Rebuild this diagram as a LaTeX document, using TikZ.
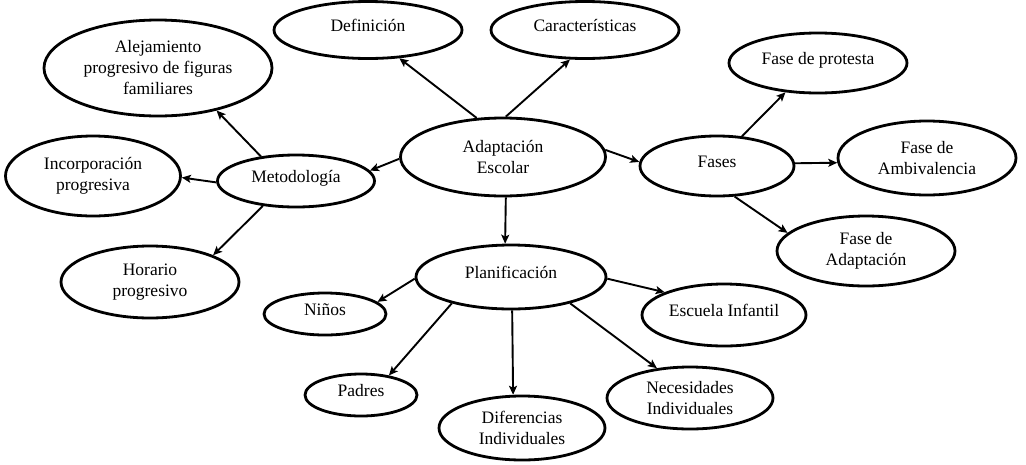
\documentclass[tikz,border=0pt]{standalone}
\usepackage{fontspec}
\setmainfont{Liberation Serif}
\usetikzlibrary{shapes.geometric,arrows.meta}
\tikzset{
  bub/.style={draw=black, line width=2.8pt, ellipse, inner sep=0pt, align=center,
    font=\fontsize{17.5}{21}\selectfont},
  one/.style={text height=12pt, text depth=10pt},
  conn/.style={line width=1.9pt, -{Stealth[length=9pt,width=8pt,inset=2pt]}}
}
\begin{document}
\begin{tikzpicture}[x=1pt,y=-1pt]
\useasboundingbox (0,0) rectangle (1026,464);
\node[bub, one, minimum width=188pt, minimum height=57pt] (def) at (368,30) {Definición};
\node[bub, one, minimum width=188pt, minimum height=57pt] (car) at (585,30) {Características};
\node[bub, minimum width=228pt, minimum height=96pt] (ale) at (158,68) {Alejamiento\\progresivo de figuras\\familiares};
\node[bub, minimum width=175pt, minimum height=80pt] (inc) at (93,176) {Incorporación\\progresiva};
\node[bub, one, minimum width=157pt, minimum height=52pt] (met) at (296,181) {Metodología};
\node[bub, minimum width=205pt, minimum height=78pt] (ada) at (503,157) {Adaptación\\Escolar};
\node[bub, one, minimum width=154pt, minimum height=60pt] (fas) at (717,166) {Fases};
\node[bub, one, minimum width=178pt, minimum height=60pt] (pro) at (818,63) {Fase de protesta};
\node[bub, minimum width=178pt, minimum height=74pt] (amb) at (927,158) {Fase de\\Ambivalencia};
\node[bub, minimum width=178pt, minimum height=70pt] (fad) at (866,251) {Fase de\\Adaptación};
\node[bub, minimum width=178pt, minimum height=72pt] (hor) at (150,282) {Horario\\progresivo};
\node[bub, one, minimum width=190pt, minimum height=64pt] (pla) at (511,277) {Planificación};
\node[bub, one, minimum width=122pt, minimum height=42pt] (nin) at (325,314) {Niños};
\node[bub, one, minimum width=164pt, minimum height=62pt] (esc) at (724,315) {Escuela Infantil};
\node[bub, one, minimum width=112pt, minimum height=42pt] (pad) at (361,395) {Padres};
\node[bub, minimum width=166pt, minimum height=64pt] (dif) at (522,428) {Diferencias\\Individuales};
\node[bub, minimum width=166pt, minimum height=62pt] (nec) at (690,398) {Necesidades\\Individuales};

\draw[conn] (ada.124) -- (def.-42);
\draw[conn] (ada.86) -- (car.-117);
\draw[conn] (ada.181) -- (met.8);
\draw[conn] (met.145) -- (ale.-36);
\draw[conn] (met.181) -- (inc.-1);
\draw[conn] (met.-143) -- (hor.23);
\draw[conn] (ada.-86) -- (pla.100);
\draw[conn] (ada.4) -- (fas.177);
\draw[conn] (fas.50) -- (pro.-138);
\draw[conn] (fas.2) -- (amb.183);
\draw[conn] (fas.-60) -- (fad.167);
\draw[conn] (pla.181) -- (nin.13);
\draw[conn] (pla.-156) -- (pad.35);
\draw[conn] (pla.-88) -- (dif.105);
\draw[conn] (pla.-1) -- (esc.159);
\draw[conn] (pla.-24) -- (nec.138);
\end{tikzpicture}
\end{document}
